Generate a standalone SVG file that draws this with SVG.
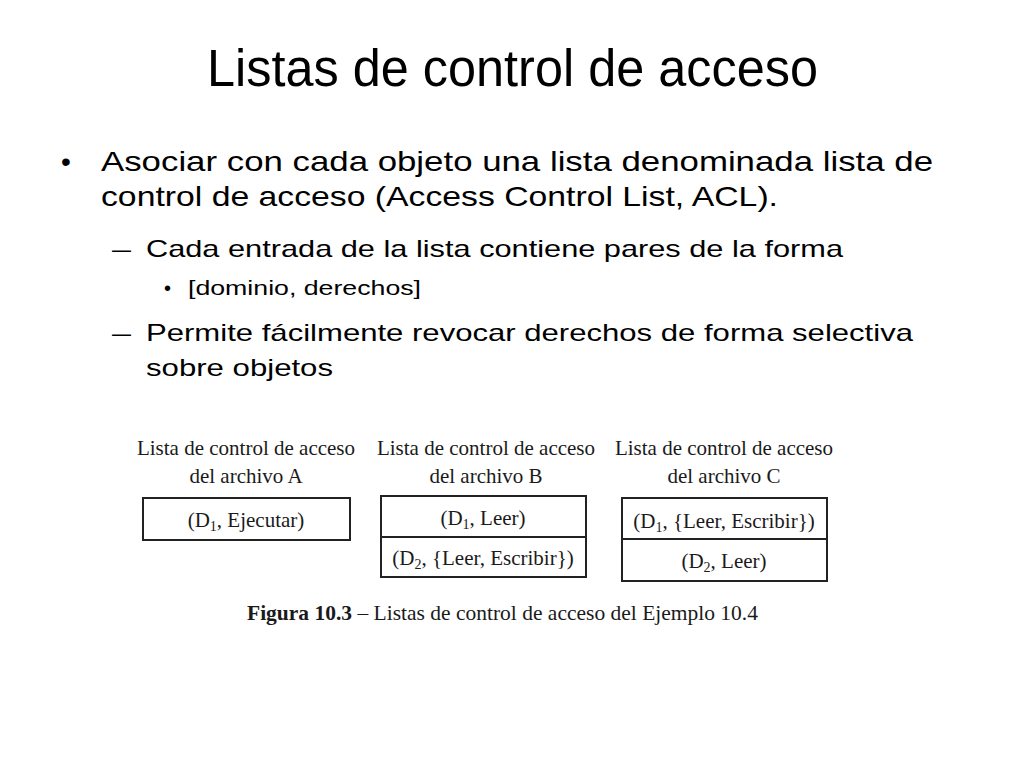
<svg xmlns="http://www.w3.org/2000/svg" width="1024" height="768" viewBox="0 0 1024 768">
<style>
.s{font-family:"Liberation Sans",Arial,sans-serif;fill:#000}
.t{font-family:"Liberation Serif","Times New Roman",serif;fill:#1a1a1a;font-size:21px}
.box{fill:none;stroke:#222;stroke-width:2}
</style>
<rect width="1024" height="768" fill="#fff"/>
<g id="slide-text">
<text class="s" x="207" y="86" font-size="51" textLength="611" lengthAdjust="spacingAndGlyphs">Listas de control de acceso</text>
<text class="s" x="61" y="171" font-size="28">•</text>
<text class="s" x="101" y="171" font-size="28" textLength="832" lengthAdjust="spacingAndGlyphs">Asociar con cada objeto una lista denominada lista de</text>
<text class="s" x="101" y="206" font-size="28" textLength="677" lengthAdjust="spacingAndGlyphs">control de acceso (Access Control List, ACL).</text>
<text class="s" x="112" y="257" font-size="24" textLength="19" lengthAdjust="spacingAndGlyphs">–</text>
<text class="s" x="146" y="257" font-size="24" textLength="697" lengthAdjust="spacingAndGlyphs">Cada entrada de la lista contiene pares de la forma</text>
<text class="s" x="164" y="295" font-size="20">•</text>
<text class="s" x="188" y="295" font-size="20" textLength="233" lengthAdjust="spacingAndGlyphs">[dominio, derechos]</text>
<text class="s" x="112" y="341" font-size="24" textLength="19" lengthAdjust="spacingAndGlyphs">–</text>
<text class="s" x="146" y="341" font-size="24" textLength="767" lengthAdjust="spacingAndGlyphs">Permite fácilmente revocar derechos de forma selectiva</text>
<text class="s" x="146" y="376" font-size="24" textLength="187" lengthAdjust="spacingAndGlyphs">sobre objetos</text>
</g>
<g id="acl-a">
<text class="t" x="246" y="455" text-anchor="middle">Lista de control de acceso</text>
<text class="t" x="246" y="483" text-anchor="middle">del archivo A</text>
<rect class="box" x="143" y="498" width="207" height="42"/>
<text class="t" x="246" y="527" text-anchor="middle">(D<tspan font-size="14" dy="4">1</tspan><tspan dy="-4">, Ejecutar)</tspan></text>
</g>
<g id="acl-b">
<text class="t" x="486" y="455" text-anchor="middle">Lista de control de acceso</text>
<text class="t" x="486" y="483" text-anchor="middle">del archivo B</text>
<rect class="box" x="381" y="496" width="205" height="81"/>
<line class="box" x1="381" y1="537" x2="586" y2="537"/>
<text class="t" x="483" y="525" text-anchor="middle">(D<tspan font-size="14" dy="4">1</tspan><tspan dy="-4">, Leer)</tspan></text>
<text class="t" x="483" y="565" text-anchor="middle">(D<tspan font-size="14" dy="4">2</tspan><tspan dy="-4">, {Leer, Escribir})</tspan></text>
</g>
<g id="acl-c">
<text class="t" x="724" y="455" text-anchor="middle">Lista de control de acceso</text>
<text class="t" x="724" y="483" text-anchor="middle">del archivo C</text>
<rect class="box" x="622" y="498" width="205" height="83"/>
<line class="box" x1="622" y1="539" x2="827" y2="539"/>
<text class="t" x="724" y="528" text-anchor="middle">(D<tspan font-size="14" dy="4">1</tspan><tspan dy="-4">, {Leer, Escribir})</tspan></text>
<text class="t" x="724" y="568" text-anchor="middle">(D<tspan font-size="14" dy="4">2</tspan><tspan dy="-4">, Leer)</tspan></text>
</g>
<g id="caption">
<text class="t" x="247" y="620" font-size="20" textLength="511" lengthAdjust="spacingAndGlyphs"><tspan font-weight="bold">Figura 10.3</tspan> – Listas de control de acceso del Ejemplo 10.4</text>
</g>
<g id="connectors"/>
</svg>
